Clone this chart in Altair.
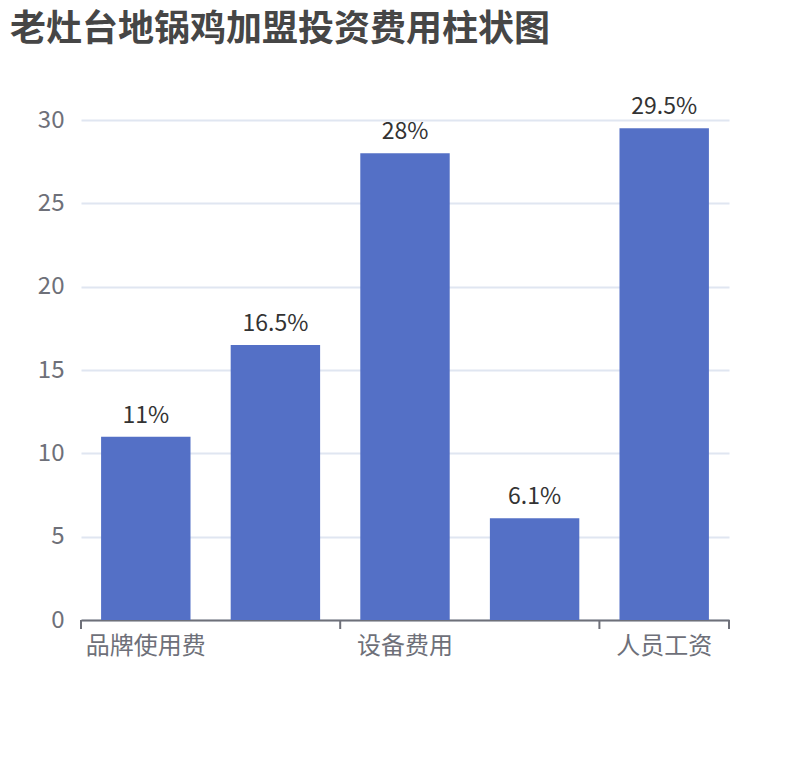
import altair as alt
import pandas as pd

categories = ["品牌使用费", "装修费用", "设备费用", "首批原料", "人员工资"]
values = [11, 16.5, 28, 6.1, 29.5]
labels = ["11%", "16.5%", "28%", "6.1%", "29.5%"]
shown_labels = ["品牌使用费", "设备费用", "人员工资"]
tick_start_cats = ["品牌使用费", "设备费用", "人员工资"]
tick_end_cats = ["人员工资"]
y_ticks = [0, 5, 10, 15, 20, 25, 30]

df = pd.DataFrame({"cat": categories, "val": values, "lab": labels})
ticks_start = pd.DataFrame({"cat": tick_start_cats})
ticks_end = pd.DataFrame({"cat": tick_end_cats})

FONT = "Noto Sans CJK SC"
AXIS_GRAY = "#6e7079"

band_scale = alt.Scale(domain=categories, paddingInner=0.31, paddingOuter=0.155)
step_scale = alt.Scale(domain=categories, paddingInner=0, paddingOuter=0)

x = alt.X(
    "cat:N",
    sort=categories,
    title=None,
    scale=band_scale,
    axis=alt.Axis(
        values=shown_labels,
        labelAngle=0,
        labelFontSize=24,
        labelColor=AXIS_GRAY,
        labelFont=FONT,
        labelPadding=14,
        domainColor=AXIS_GRAY,
        domainWidth=2,
        ticks=False,
        grid=False,
    ),
)
y = alt.Y(
    "val:Q",
    title=None,
    scale=alt.Scale(domain=[0, 30], nice=False),
    axis=alt.Axis(
        values=y_ticks,
        domain=False,
        ticks=False,
        grid=True,
        gridColor="#e0e6f1",
        gridWidth=2,
        labelFontSize=24,
        labelColor=AXIS_GRAY,
        labelFont=FONT,
        labelPadding=17,
    ),
)

bars = alt.Chart(df).mark_bar(color="#5470c6").encode(x=x, y=y)
text = alt.Chart(df).mark_text(
    baseline="bottom", dy=-9, fontSize=23, color="#333333", font=FONT
).encode(x=alt.X("cat:N", sort=categories, scale=band_scale), y="val:Q", text="lab:N")

tick_a = alt.Chart(ticks_start).mark_rule(color=AXIS_GRAY, strokeWidth=2).encode(
    x=alt.X("cat:N", scale=step_scale, axis=None, bandPosition=0),
    y=alt.value(500),
    y2=alt.value(509),
)
tick_b = alt.Chart(ticks_end).mark_rule(color=AXIS_GRAY, strokeWidth=2).encode(
    x=alt.X("cat:N", scale=step_scale, axis=None, bandPosition=1),
    y=alt.value(500),
    y2=alt.value(509),
)

chart = (
    alt.layer(alt.layer(bars, text), alt.layer(tick_a, tick_b))
    .resolve_scale(x="independent")
    .properties(
        width=648,
        height=500,
        autosize=alt.AutoSizeParams(type="none"),
        padding={"left": 73, "top": 112, "right": 73, "bottom": 132},
        title=alt.Title(
            "老灶台地锅鸡加盟投资费用柱状图",
            anchor="start",
            frame="group",
            dx=-71,
            offset=47,
            fontSize=36,
            fontWeight="bold",
            color="#464646",
            font=FONT,
        ),
    )
    .configure_view(stroke=None)
)

chart.save("out.html", embed_options={"renderer": "svg", "actions": False})
